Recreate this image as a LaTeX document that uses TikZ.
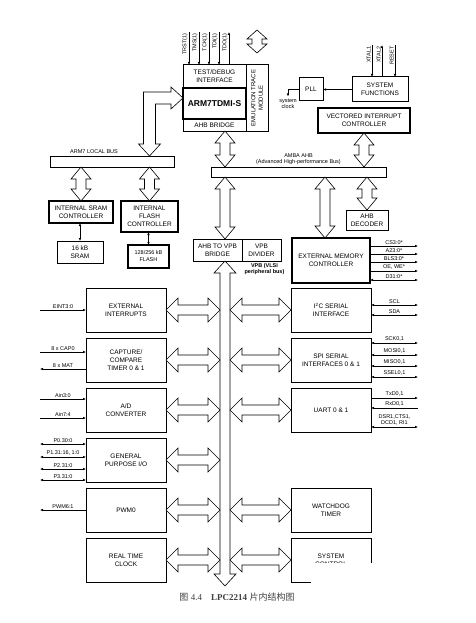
\documentclass[tikz,border=0pt]{standalone}
\usepackage{fontspec}
\setmainfont{Liberation Sans}
\newfontfamily\cjkfont{Noto Sans CJK SC}
\newfontfamily\capfont{Liberation Serif}
\usepackage{tikz}
\usetikzlibrary{positioning, arrows.meta, calc}

\tikzset{
  blk/.style={rectangle, draw, line width=1pt, inner sep=1pt, outer sep=0pt, align=center, font=\fontsize{6.5}{8}\selectfont},
  thickblk/.style={blk, line width=1.8pt},
  peri/.style={blk, minimum width=80pt, minimum height=44pt},
  busbar/.style={rectangle, draw, line width=0.6pt, inner sep=0pt, outer sep=0pt},
  sig/.style={line width=0.8pt},
  lab/.style={font=\fontsize{5.5}{6.5}\selectfont, inner sep=1pt, align=center},
  hollow/.style={draw, line width=0.6pt, fill=white, line join=miter},
}

% hollow double arrow between two points, #1 = half width of the heads
\newcommand{\bushl}{12pt}
\newcommand{\busarrow}[3][10]{%
  \draw[hollow] (#2) -- ($(#2)!\bushl!(#3)!#1pt!90:(#3)$) -- ($(#2)!\bushl!(#3)!5pt!90:(#3)$)
    -- ($(#3)!\bushl!(#2)!5pt!-90:(#2)$) -- ($(#3)!\bushl!(#2)!#1pt!-90:(#2)$) -- (#3)
    -- ($(#3)!\bushl!(#2)!#1pt!90:(#2)$) -- ($(#3)!\bushl!(#2)!5pt!90:(#2)$)
    -- ($(#2)!\bushl!(#3)!5pt!-90:(#3)$) -- ($(#2)!\bushl!(#3)!#1pt!-90:(#3)$) -- cycle;}

\begin{document}
\begin{tikzpicture}[x=1pt, y=-1pt, >={Latex[length=3pt,width=2.6pt]}]
  \useasboundingbox (0,0) rectangle (475,623);

  % ARM core and neighbours
  \node[blk, minimum width=63pt, minimum height=23pt, anchor=north west] (tdi) at (183,65) {TEST/DEBUG\\INTERFACE};
  \node[thickblk, minimum width=63pt, minimum height=31pt, below=0pt of tdi, font=\fontsize{8.5}{10}\selectfont\bfseries] (core) {ARM7TDMI-S};
  \node[blk, minimum width=63pt, minimum height=12pt, below=0pt of core] (ahbbr) {AHB BRIDGE};
  \node[blk, rotate=90, minimum width=66pt, minimum height=22pt, font=\fontsize{6}{7.5}\selectfont] (etm) at ($(tdi.north east)+(11,33)$) {EMULATION TRACE\\MODULE};
  \node[blk, minimum width=24pt, minimum height=23pt, anchor=north west] (pll) at (299,78) {PLL};
  \node[blk, minimum width=56pt, minimum height=25pt, anchor=north west] (sysfn) at (352,77) {SYSTEM\\FUNCTIONS};
  \node[thickblk, minimum width=92pt, minimum height=25pt, anchor=north west] (vic) at (318,108) {VECTORED INTERRUPT\\CONTROLLER};

  % buses
  \node[busbar, minimum width=175pt, minimum height=10pt, anchor=north west] (amba) at (211,167) {};
  \node[lab, above=1pt of amba] (ambalab) {AMBA AHB\\(Advanced High-performance Bus)};
  \node[busbar, minimum width=124pt, minimum height=11pt, anchor=north west] (lbus) at (50,156) {};
  \node[lab, anchor=south west] (lbuslab) at ($(lbus.north west)+(19,-1)$) {ARM7 LOCAL BUS};

  % memories
  \node[thickblk, minimum width=64pt, minimum height=22pt, anchor=north west] (sramc) at (49,201) {INTERNAL SRAM\\CONTROLLER};
  \node[thickblk, minimum width=57pt, minimum height=31pt, anchor=north west] (flashc) at (121,201) {INTERNAL\\FLASH\\CONTROLLER};
  \node[blk, minimum width=46pt, minimum height=22pt, anchor=north west] (sram) at (57,241) {16 kB\\SRAM};
  \node[thickblk, minimum width=41pt, minimum height=23pt, anchor=north west, font=\fontsize{5.5}{7}\selectfont] (flash) at (128,245) {128/256 kB\\FLASH};

  % AHB side
  \node[blk, minimum width=42pt, minimum height=20pt, anchor=north west] (ahbdec) at (346,210) {AHB\\DECODER};
  \node[blk, minimum width=49pt, minimum height=22pt, anchor=north west] (vpbbr) at (193,239) {AHB TO VPB\\BRIDGE};
  \node[blk, minimum width=39pt, minimum height=22pt, right=0pt of vpbbr] (vpbdiv) {VPB\\DIVIDER};
  \node[lab, font=\fontsize{5.5}{6.5}\selectfont\bfseries, anchor=north] (vpblab) at ($(vpbdiv.south)+(3,1)$) {VPB (VLSI\\peripheral bus)};
  \node[thickblk, minimum width=78pt, minimum height=45pt, anchor=north west] (emc) at (292,238) {EXTERNAL MEMORY\\CONTROLLER};

  % peripherals
  \node[peri, anchor=north west] (extint) at (86,288) {EXTERNAL\\INTERRUPTS};
  \node[peri, below=6pt of extint] (capt) {CAPTURE/\\COMPARE\\TIMER 0 \& 1};
  \node[peri, below=6pt of capt] (adc) {A/D\\CONVERTER};
  \node[peri, below=6pt of adc] (gpio) {GENERAL\\PURPOSE I/O};
  \node[peri, below=6pt of gpio] (pwm) {PWM0};
  \node[peri, below=6pt of pwm] (rtc) {REAL TIME\\CLOCK};
  \node[peri, right=125pt of extint] (i2c) {I\textsuperscript{2}C SERIAL\\INTERFACE};
  \node[peri, below=6pt of i2c] (spi) {SPI SERIAL\\INTERFACES 0 \& 1};
  \node[peri, below=6pt of spi] (uart) {UART 0 \& 1};
  \node[peri, right=125pt of pwm] (wdt) {WATCHDOG\\TIMER};
  \node[peri, below=6pt of wdt] (sysctl) {SYSTEM\\CONTROL};

  % bus taps
  \coordinate (vbus) at ($(ahbbr.south)+(10.5,0)$);
  \coordinate (vbl) at ($(vbus)+(-5,0)$);
  \coordinate (vbr) at ($(vbus)+(5,0)$);
  \coordinate (vend) at ($(vbus |- rtc.south)+(0,4)$);
  \coordinate (emtap) at ($(emc.north)+(-6,0)$);
  \coordinate (trtop) at ($(tdi.north east)+(11,-35)$);
  \coordinate (trbot) at ($(tdi.north east)+(11,-12)$);
  \coordinate (lt) at ($(core.west)+(0,-5.5)$);
  \coordinate (lb) at (flashc.north |- lbus.north);

  {\renewcommand{\bushl}{9pt}\busarrow{trtop}{trbot}}
  \busarrow{vbus}{vbus |- amba.north}
  \busarrow{vic.south}{vic.south |- amba.north}
  \busarrow{sramc.north |- lbus.south}{sramc.north}
  \busarrow{flashc.north |- lbus.south}{flashc.north}
  \busarrow{vbus |- amba.south}{vbus |- vpbbr.north}
  \busarrow{emtap |- amba.south}{emtap}
  \busarrow{ahbdec.north |- amba.south}{ahbdec.north}
  \busarrow[11]{vbus |- vpbbr.south}{vend}
  \draw[hollow] (lt) -- ++(-12,-11) -- ++(0,5) -- ($(lb |- lt)+(-6,-6)$) -- ($(lb)+(-6,-12)$) -- ++(-5,0)
    -- (lb) -- ++(11,-12) -- ++(-5,0) -- ($(lb |- lt)+(6,6)$) -- ($(lt)+(-12,6)$) -- ++(0,5) -- cycle;

  \busarrow[12]{extint.east}{extint.east -| vbl}
  \busarrow[12]{capt.east}{capt.east -| vbl}
  \busarrow[12]{adc.east}{adc.east -| vbl}
  \busarrow[12]{gpio.east}{gpio.east -| vbl}
  \busarrow[12]{pwm.east}{pwm.east -| vbl}
  \busarrow[12]{rtc.east}{rtc.east -| vbl}
  \busarrow[12]{i2c.west -| vbr}{i2c.west}
  \busarrow[12]{spi.west -| vbr}{spi.west}
  \busarrow[12]{uart.west -| vbr}{uart.west}
  \busarrow[12]{wdt.west -| vbr}{wdt.west}
  \busarrow[12]{sysctl.west -| vbr}{sysctl.west}

  % JTAG and clock pins
  \draw[sig,<-] ($(tdi.north west)+(6,0)$) -- ++(0,-33) node[lab,rotate=90,anchor=south east]{TRST(1)};
  \draw[sig,<-] ($(tdi.north west)+(16,0)$) -- ++(0,-33) node[lab,rotate=90,anchor=south east]{TMS(1)};
  \draw[sig,<-] ($(tdi.north west)+(26,0)$) -- ++(0,-33) node[lab,rotate=90,anchor=south east]{TCK(1)};
  \draw[sig,<-] ($(tdi.north west)+(36,0)$) -- ++(0,-33) node[lab,rotate=90,anchor=south east]{TDI(1)};
  \draw[sig,->] ($(tdi.north west)+(46,0)$) -- ++(0,-33) node[lab,rotate=90,anchor=south east]{TDO(1)};
  \draw[sig,<-] ($(sysfn.north west)+(20,0)$) -- ++(0,-32) node[lab,rotate=90,anchor=south east]{XTAL1};
  \draw[sig,->] ($(sysfn.north west)+(30,0)$) -- ++(0,-32) node[lab,rotate=90,anchor=south east]{XTAL2};
  \draw[sig,<-] ($(sysfn.north west)+(43,0)$) -- ++(0,-32) node[lab,rotate=90,anchor=south east]{RESET};
  \draw[sig,->] (sysfn.west) -- (pll.east);
  \draw[sig,->] (pll.west) -| ($(pll.west)+(-11,7)$) node[lab,below=1pt]{system\\clock};
  \draw[sig,<->] (sram.north) -- (sram.north |- sramc.south);
  \draw[sig,<->] (flash.north) -- (flash.north |- flashc.south);

  % external memory pins
  \draw[sig,->] ($(emc.north east)+(0,8)$) -- ++(48,0) node[lab,midway,above]{CS3:0*};
  \draw[sig,->] ($(emc.north east)+(0,16)$) -- ++(48,0) node[lab,midway,above]{A23:0*};
  \draw[sig,->] ($(emc.north east)+(0,24)$) -- ++(48,0) node[lab,midway,above]{BLS3:0*};
  \draw[sig,->] ($(emc.north east)+(0,33)$) -- ++(48,0) node[lab,midway,above]{OE, WE*};
  \draw[sig,<->] ($(emc.north east)+(0,42)$) -- ++(48,0) node[lab,midway,above]{D31:0*};

  % left pins
  \draw[sig,<-] (extint.west) -- ++(-46,0) node[lab,midway,above]{EINT3:0};
  \draw[sig,<-] ($(capt.west)+(0,-8)$) -- ++(-46,0) node[lab,midway,above]{8 x CAP0};
  \draw[sig,->] ($(capt.west)+(0,9)$) -- ++(-46,0) node[lab,midway,above]{8 x MAT};
  \draw[sig,<-] ($(adc.west)+(0,-11)$) -- ++(-46,0) node[lab,midway,above]{Ain3:0};
  \draw[sig,<-] ($(adc.west)+(0,8)$) -- ++(-46,0) node[lab,midway,above]{Ain7:4};
  \draw[sig,<->] ($(gpio.west)+(0,-16)$) -- ++(-46,0) node[lab,midway,above]{P0.30:0};
  \draw[sig,<->] ($(gpio.west)+(0,-3)$) -- ++(-46,0) node[lab,midway,above]{P1.31:16, 1:0};
  \draw[sig,<->] ($(gpio.west)+(0,9)$) -- ++(-46,0) node[lab,midway,above]{P2.31:0};
  \draw[sig,<->] ($(gpio.west)+(0,20)$) -- ++(-46,0) node[lab,midway,above]{P3.31:0};
  \draw[sig,->] (pwm.west) -- ++(-46,0) node[lab,midway,above]{PWM6:1};

  % right pins
  \draw[sig,<->] ($(i2c.east)+(0,-5)$) -- ++(47,0) node[lab,midway,above]{SCL};
  \draw[sig,<->] ($(i2c.east)+(0,5)$) -- ++(47,0) node[lab,midway,above]{SDA};
  \draw[sig,<->] ($(spi.east)+(0,-17)$) -- ++(47,0) node[lab,midway,above]{SCK0,1};
  \draw[sig,<->] ($(spi.east)+(0,-5)$) -- ++(47,0) node[lab,midway,above]{MOSI0,1};
  \draw[sig,<->] ($(spi.east)+(0,6)$) -- ++(47,0) node[lab,midway,above]{MISO0,1};
  \draw[sig,<->] ($(spi.east)+(0,17)$) -- ++(47,0) node[lab,midway,above]{SSEL0,1};
  \draw[sig,->] ($(uart.east)+(0,-12)$) -- ++(47,0) node[lab,midway,above]{TxD0,1};
  \draw[sig,<-] ($(uart.east)+(0,-2)$) -- ++(47,0) node[lab,midway,above]{RxD0,1};
  \draw[sig,<->] ($(uart.east)+(0,17)$) -- ++(47,0) node[lab,midway,above]{DSR1,CTS1,\\DCD1, RI1};

  % white patch over the corner of the last block
  \fill[white] ($(sysctl.west)+(20,3)$) rectangle ++(170,45);

  \node[font=\fontsize{9}{10}\selectfont, text=black!75] (caption) at (237,597)
    {{\cjkfont 图} {\capfont 4.4}\quad {\capfont\bfseries LPC2214} {\cjkfont 片内结构图}};
\end{tikzpicture}
\end{document}
